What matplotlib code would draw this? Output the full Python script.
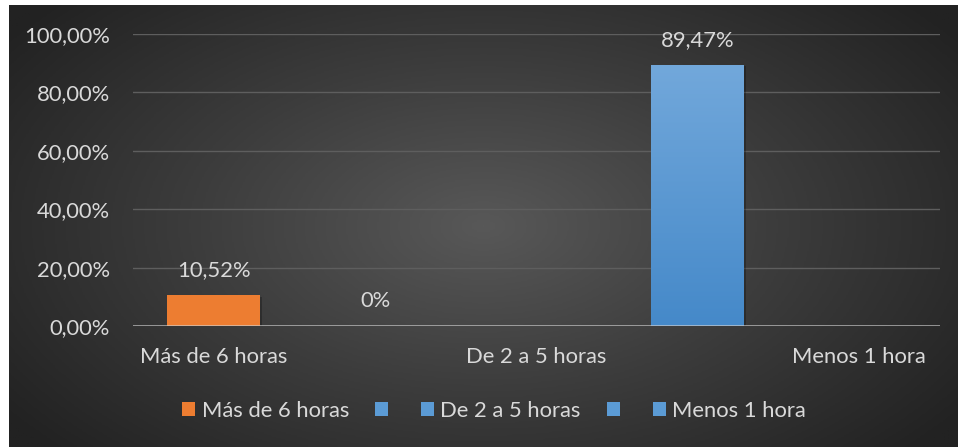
import numpy as np
import matplotlib.pyplot as plt
from matplotlib.patches import Rectangle, Patch
from matplotlib.colors import LinearSegmentedColormap

plt.rcParams['font.family'] = ['Lato', 'DejaVu Sans']

categorias = ["Más de 6 horas", "", "De 2 a 5 horas", "", "Menos 1 hora"]
valores = [10.52, 0, None, 89.47, None]
etiquetas = ["10,52%", "0%", "", "89,47%", ""]
colores_barra = ["#ed7d31", "#5b9bd5", "#5b9bd5", "#5b9bd5", "#5b9bd5"]
series_leyenda = ["Más de 6 horas", "", "De 2 a 5 horas", "", "Menos 1 hora"]
colores_leyenda = ["#ed7d31", "#5b9bd5", "#5b9bd5", "#5b9bd5", "#5b9bd5"]
yticks = [0, 20, 40, 60, 80, 100]
ytick_labels = ["0,00%", "20,00%", "40,00%", "60,00%", "80,00%", "100,00%"]

W, H = 958, 447
fig = plt.figure(figsize=(W / 100, H / 100), dpi=100, facecolor="white")

# fondo oscuro con degradado radial
bg = fig.add_axes([9 / W, 0, (W - 9) / W, (H - 5) / H])
bg.set_axis_off()
yy, xx = np.mgrid[0:1:300j, 0:1:600j]
d = np.sqrt(((xx - 0.5) / 0.62) ** 2 + ((yy - 0.5) / 0.75) ** 2)
d = np.clip(d, 0, 1)
cmap_bg = LinearSegmentedColormap.from_list("bg", ["#585858", "#3c3c3c", "#222222"])
bg.imshow(d, cmap=cmap_bg, aspect="auto", extent=[0, 1, 0, 1], vmin=0, vmax=1)
bg.set_xlim(0, 1)
bg.set_ylim(0, 1)

texto = "#d9d9d9"
fs = 15.8

ax = fig.add_axes([133 / W, (H - 326) / H, (940 - 133) / W, (326 - 34) / H])
ax.patch.set_alpha(0)
ax.set_xlim(-0.5, len(categorias) - 0.5)
ax.set_ylim(0, 100)
for s in ax.spines.values():
    s.set_visible(False)

for y in yticks[1:]:
    ax.axhline(y, color="#5e5e5e", lw=1.0, zorder=1)

ancho = 0.576
for i, v in enumerate(valores):
    if v is None:
        continue
    if v > 0:
        # sombra
        ax.add_patch(Rectangle((i - ancho / 2 + 0.01, -0.6), ancho, v, color="black",
                               alpha=0.25, lw=0, zorder=2))
        barra = Rectangle((i - ancho / 2, 0), ancho, v, color=colores_barra[i], lw=0, zorder=3)
        ax.add_patch(barra)
        if colores_barra[i] == "#5b9bd5":
            grad = np.linspace(0, 1, 256).reshape(-1, 1)
            cm = LinearSegmentedColormap.from_list("b", ["#4589c9", "#72a8db"])
            im = ax.imshow(grad, cmap=cm, aspect="auto", origin="lower",
                           extent=[i - ancho / 2, i + ancho / 2, 0, v], zorder=3.5)
            im.set_clip_path(barra)
    ax.annotate(etiquetas[i], (i, v), xytext=(0, 18), textcoords="offset points",
                ha="center", va="center", color=texto, fontsize=fs, zorder=5)

ax.axhline(0, color="#cfcfcf", alpha=0.7, lw=2.0, zorder=4)
ax.set_xlim(-0.5, len(categorias) - 0.5)
ax.set_ylim(0, 100)

ax.set_yticks(yticks)
ax.set_yticklabels(ytick_labels)
ax.set_xticks(range(len(categorias)))
ax.set_xticklabels(categorias)
ax.tick_params(axis="both", length=0, colors=texto, labelsize=fs)
ax.tick_params(axis="y", pad=16.5)
ax.tick_params(axis="x", pad=15)

handles = [Patch(facecolor=c, edgecolor="none") for c in colores_leyenda]
fig.legend(handles, series_leyenda, loc="center", bbox_to_anchor=(494 / W, (H - 411) / H),
           ncol=5, frameon=False, fontsize=fs, labelcolor=texto,
           handlelength=0.6, handleheight=0.6, handletextpad=0.28, columnspacing=1.2)

fig.savefig("out.png", dpi=100, facecolor="white")
